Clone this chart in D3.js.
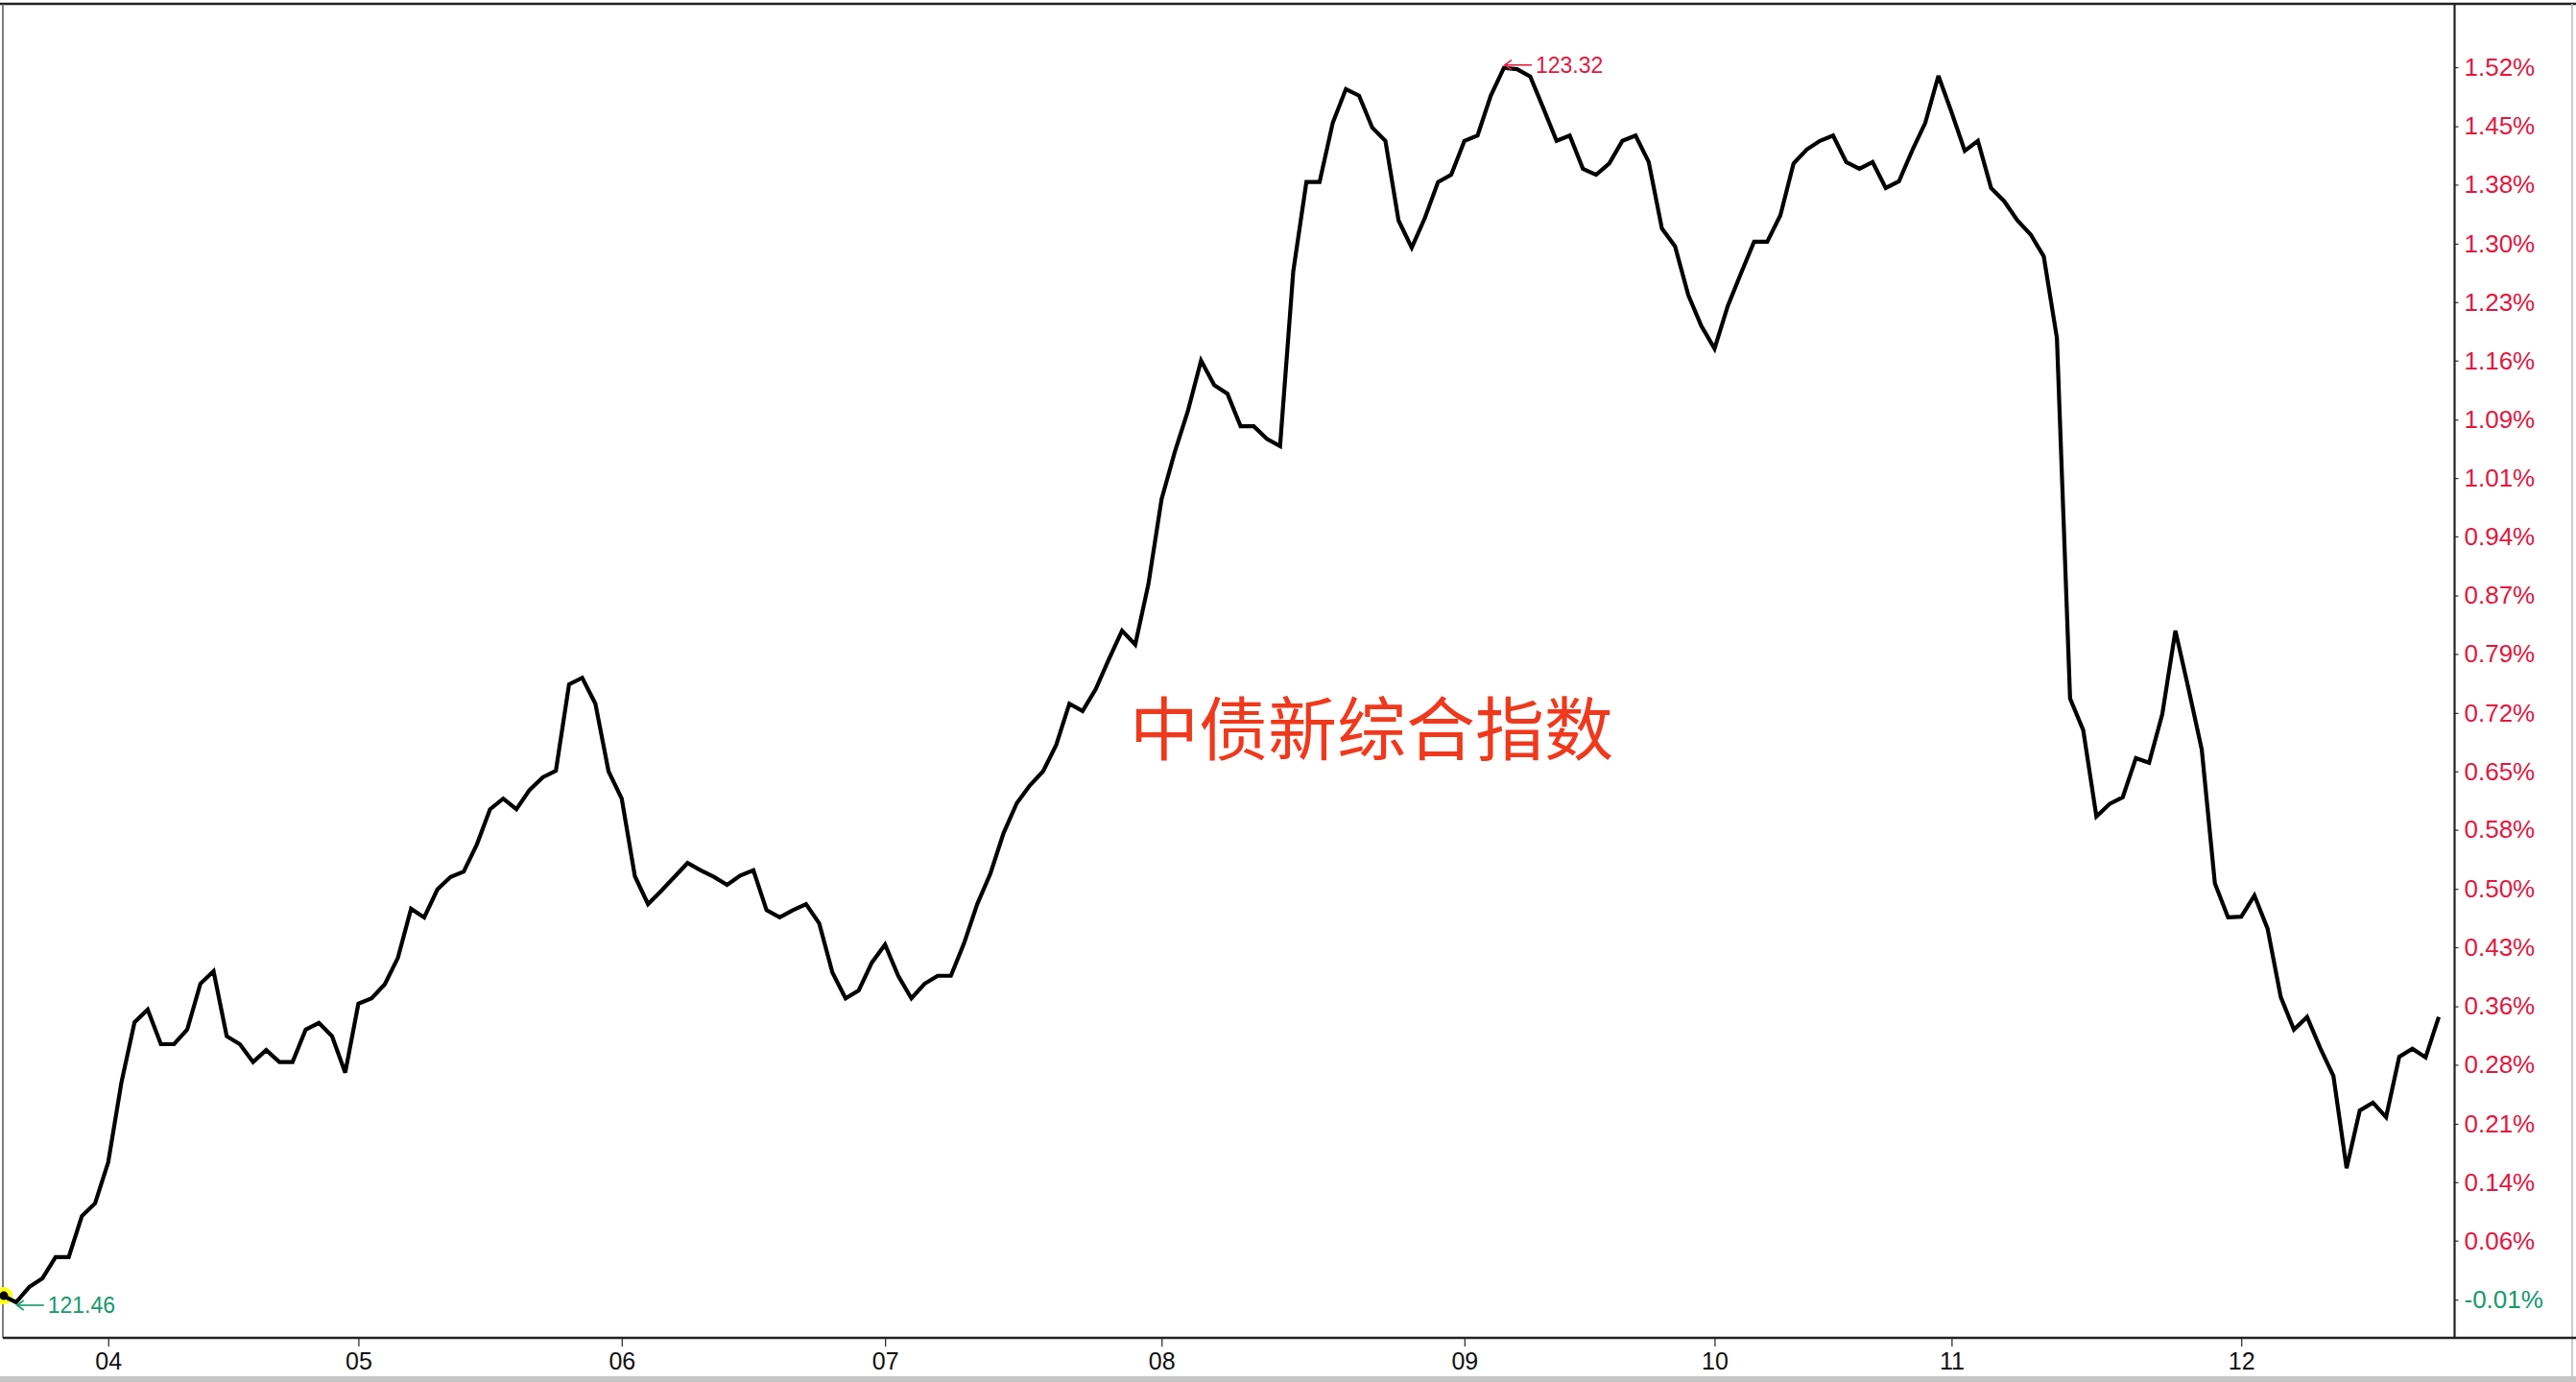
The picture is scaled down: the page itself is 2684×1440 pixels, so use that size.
<!DOCTYPE html>
<html>
<head>
<meta charset="utf-8">
<script src="https://cdn.jsdelivr.net/npm/d3@7/dist/d3.min.js"></script>
<style>
  html, body { margin: 0; padding: 0; background: #fff; }
  svg { display: block; }
</style>
</head>
<body>
<svg id="chart" width="2684" height="1440"></svg>
<script>
// ---- data (index level) ----
const values = [
  121.470,121.460,121.483,121.496,121.528,121.528,121.590,121.609,121.671,121.791,
  121.882,121.901,121.849,121.849,121.871,121.940,121.959,121.861,121.849,121.822,
  121.840,121.822,121.822,121.871,121.881,121.861,121.806,121.910,121.918,121.939,
  121.979,122.053,122.040,122.082,122.101,122.109,122.150,122.203,122.219,122.203,
  122.232,122.251,122.261,122.391,122.401,122.362,122.260,122.219,122.102,122.060,
  122.080,122.101,122.122,122.111,122.101,122.089,122.103,122.111,122.051,122.040,
  122.051,122.060,122.031,121.957,121.918,121.930,121.972,121.999,121.952,121.918,
  121.940,121.952,121.952,122.001,122.060,122.106,122.167,122.212,122.239,122.260,
  122.300,122.362,122.351,122.384,122.429,122.472,122.451,122.542,122.670,122.741,
  122.803,122.879,122.842,122.829,122.780,122.780,122.761,122.750,123.013,123.148,
  123.148,123.237,123.288,123.278,123.230,123.210,123.090,123.049,123.094,123.148,
  123.159,123.210,123.218,123.278,123.320,123.318,123.307,123.259,123.210,123.218,
  123.168,123.159,123.176,123.210,123.218,123.178,123.078,123.051,122.978,122.931,
  122.897,122.961,123.010,123.058,123.058,123.098,123.176,123.197,123.210,123.218,
  123.178,123.168,123.178,123.139,123.149,123.195,123.237,123.308,123.253,123.195,
  123.210,123.139,123.119,123.090,123.069,123.036,122.913,122.370,122.322,122.192,
  122.211,122.221,122.280,122.273,122.346,122.472,122.384,122.293,122.091,122.040,
  122.041,122.073,122.023,121.920,121.871,121.890,121.843,121.801,121.662,121.749,
  121.761,121.739,121.830,121.842,121.829,121.890
];

const monthIndex  = [8, 27, 47, 67, 88, 111, 130, 148, 170];
const monthLabels = ["04","05","06","07","08","09","10","11","12"];

const yTickValues = [121.464,121.553,121.641,121.729,121.818,121.906,121.995,122.083,
  122.172,122.260,122.348,122.437,122.525,122.614,122.702,122.790,122.879,122.967,
  123.055,123.144,123.232,123.321];
const yTickLabels = ["-0.01%","0.06%","0.14%","0.21%","0.28%","0.36%","0.43%","0.50%",
  "0.58%","0.65%","0.72%","0.79%","0.87%","0.94%","1.01%","1.09%","1.16%","1.23%",
  "1.30%","1.38%","1.45%","1.52%"];

const title = "中债新综合指数";

// ---- layout ----
const W = 2684, H = 1440;
const plotLeft = 3, plotRight = 2557.5, plotTop = 4, plotBottom = 1394;
const RED = "#e3173e", GREEN = "#149a6c";

const svg = d3.select("#chart");

const x = d3.scaleLinear().domain([0, values.length - 1]).range([3, 2541]);
const y = d3.scaleLinear().domain([121.46, 123.32]).range([1357, 70.7]);

// frame
svg.append("line").attr("x1", 0).attr("x2", W).attr("y1", plotTop).attr("y2", plotTop)
  .attr("stroke", "#222").attr("stroke-width", 2.5);
svg.append("line").attr("x1", plotLeft).attr("x2", plotLeft).attr("y1", plotTop).attr("y2", plotBottom)
  .attr("stroke", "#555").attr("stroke-width", 1.5);
svg.append("line").attr("x1", 2680).attr("x2", 2680).attr("y1", plotTop).attr("y2", H)
  .attr("stroke", "#bbb").attr("stroke-width", 1.5);

// bottom gray strip
svg.append("rect").attr("x", 0).attr("y", 1434).attr("width", W).attr("height", 6).attr("fill", "#c6c6c6");

// bottom axis
const xAxis = d3.axisBottom(x)
  .tickValues(monthIndex)
  .tickFormat((d, i) => monthLabels[i])
  .tickSize(9).tickPadding(6);
const gx = svg.append("g").attr("transform", `translate(0,${plotBottom})`).call(xAxis);
gx.select(".domain").remove();
gx.selectAll(".tick line").attr("stroke", "#222").attr("stroke-width", 1.2);
gx.selectAll(".tick text").attr("fill", "#111")
  .style("font-family", "'Liberation Sans', Arial, Helvetica, sans-serif")
  .style("font-size", "25px");
svg.append("line").attr("x1", plotLeft).attr("x2", W).attr("y1", plotBottom).attr("y2", plotBottom)
  .attr("stroke", "#222").attr("stroke-width", 2.5);

// right axis
const yAxis = d3.axisRight(y)
  .tickValues(yTickValues)
  .tickFormat((d, i) => yTickLabels[i])
  .tickSize(4).tickPadding(6);
const gy = svg.append("g").attr("transform", `translate(${plotRight},0)`).call(yAxis);
gy.select(".domain").remove();
gy.selectAll(".tick line").attr("stroke", "#333").attr("stroke-width", 1.2);
gy.selectAll(".tick text")
  .attr("fill", (d, i) => yTickLabels[i].startsWith("-") ? GREEN : RED)
  .style("font-family", "'Liberation Sans', Arial, Helvetica, sans-serif")
  .style("font-size", "26px");
svg.append("line").attr("x1", plotRight).attr("x2", plotRight).attr("y1", plotTop).attr("y2", plotBottom)
  .attr("stroke", "#222").attr("stroke-width", 2.2);

// title
svg.append("text").attr("x", 1177).attr("y", 754)
  .attr("dominant-baseline", "central")
  .attr("fill", "#f0381c")
  .style("font-family", "'Noto Sans CJK SC', 'Noto Sans', sans-serif")
  .style("font-size", "72px")
  .text(title);

// start marker
svg.append("circle").attr("cx", x(0) + 1).attr("cy", y(values[0])).attr("r", 9).attr("fill", "#ffff1a");

// line
const line = d3.line().x((d, i) => x(i)).y(d => y(d));
svg.append("path").datum(values).attr("d", line)
  .attr("fill", "none").attr("stroke", "#000").attr("stroke-width", 4.2)
  .attr("stroke-linejoin", "miter").attr("stroke-miterlimit", 3);

svg.append("circle").attr("cx", x(0) + 1).attr("cy", y(values[0])).attr("r", 4.5).attr("fill", "#000");

// annotations (min / max)
function annotate(idx, color, dy) {
  const px = x(idx), py = y(values[idx]) + dy;
  const g = svg.append("g").attr("stroke", color).attr("fill", "none").attr("stroke-width", 1.6);
  g.append("line").attr("x1", px + 1).attr("x2", px + 29).attr("y1", py).attr("y2", py);
  g.append("polyline").attr("points", `${px + 8},${py - 5} ${px + 1},${py} ${px + 8},${py + 5}`);
  svg.append("text").attr("x", px + 33).attr("y", py)
    .attr("dominant-baseline", "central")
    .attr("fill", color)
    .style("font-family", "'Liberation Sans', Arial, Helvetica, sans-serif")
    .style("font-size", "23px")
    .text(values[idx].toFixed(2));
}
const iMax = d3.maxIndex(values), iMin = d3.minIndex(values);
annotate(iMax, RED, -3);
annotate(iMin, GREEN, 3);
</script>
</body>
</html>
